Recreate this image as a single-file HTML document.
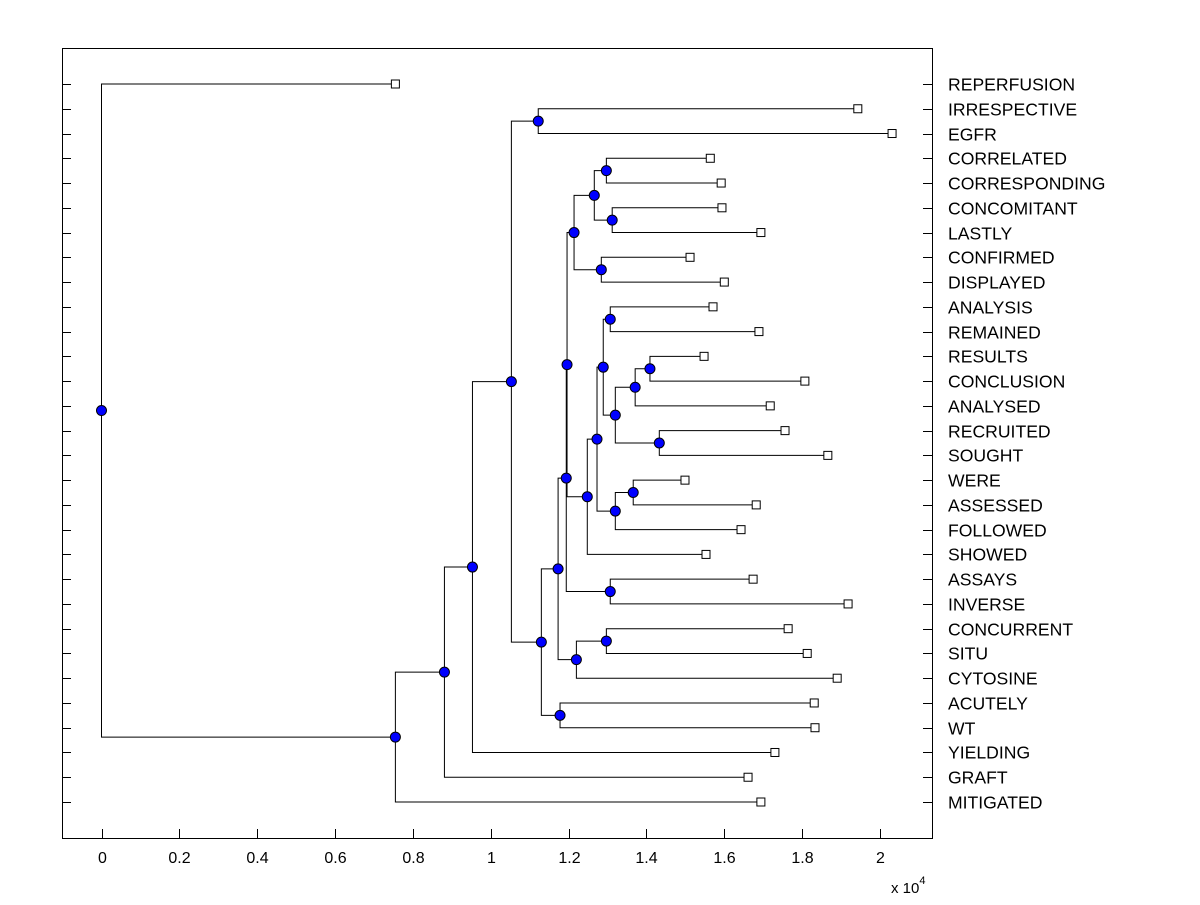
<!DOCTYPE html>
<html><head><meta charset="utf-8"><style>
body{margin:0;background:#fff;width:1200px;height:900px;overflow:hidden}
text{font-family:"Liberation Sans",Arial,sans-serif;font-size:16px;fill:#000}
</style></head><body>
<svg id="chart" width="1200" height="900" xmlns="http://www.w3.org/2000/svg"></svg>
<script>
const labels=["REPERFUSION","IRRESPECTIVE","EGFR","CORRELATED","CORRESPONDING","CONCOMITANT","LASTLY","CONFIRMED","DISPLAYED","ANALYSIS","REMAINED","RESULTS","CONCLUSION","ANALYSED","RECRUITED","SOUGHT","WERE","ASSESSED","FOLLOWED","SHOWED","ASSAYS","INVERSE","CONCURRENT","SITU","CYTOSINE","ACUTELY","WT","YIELDING","GRAFT","MITIGATED"];
const leafValues=[0.755,1.943,2.031,1.564,1.592,1.594,1.694,1.512,1.600,1.571,1.689,1.548,1.807,1.718,1.756,1.866,1.499,1.682,1.643,1.553,1.674,1.918,1.764,1.813,1.890,1.831,1.833,1.730,1.661,1.694];
const mergeLeft=[3,5,"n0",7,"n2",9,11,"n6",14,"n7","n5",16,"n11","n10","n13","n4",20,"n15",22,"n18","n17",25,"n20",1,"n23","n24","n25","n26",0];
const mergeRight=[4,6,"n1",8,"n3",10,12,13,15,"n8","n9",17,18,"n12",19,"n14",21,"n16",23,24,"n19",26,"n21",2,"n22",27,28,29,"n27"];
const mergeHeights=[1.297,1.312,1.266,1.284,1.214,1.307,1.409,1.371,1.433,1.320,1.289,1.366,1.320,1.273,1.248,1.196,1.307,1.194,1.297,1.220,1.173,1.178,1.130,1.122,1.053,0.953,0.881,0.755,0];
const xTicks=[0,0.2,0.4,0.6,0.8,1,1.2,1.4,1.6,1.8,2];
const xTickLabels=["0","0.2","0.4","0.6","0.8","1","1.2","1.4","1.6","1.8","2"];

const NS="http://www.w3.org/2000/svg",svg=document.getElementById('chart');
const L=62,R=932,T=48,B=838;
const xs=v=>101.5+v*389.25;
const ys=i=>84+i*(802-84)/(labels.length-1);
function mk(tag,at,parent){const e=document.createElementNS(NS,tag);for(const k in at)e.setAttribute(k,at[k]);(parent||svg).appendChild(e);return e;}
const box=mk('rect',{x:L+.5,y:T+.5,width:R-L,height:B-T,fill:'none',stroke:'#000'});


xTicks.forEach((t,i)=>{const x=Math.round(xs(t))+.5;
 const tk=mk('line',{x1:x,x2:x,y1:B,y2:B-9,stroke:'#000'});
 
 
 const tl=mk('text',{x:x,y:863,'text-anchor':'middle'});tl.textContent=xTickLabels[i];
 
 });
const ex=mk('text',{x:891,y:893,style:'font-size:15px'});ex.innerHTML='x 10<tspan dy="-9" style="font-size:11px">4</tspan>';


labels.forEach((lab,i)=>{const y=Math.round(ys(i))+.5;
 const a=mk('line',{x1:L,x2:L+9,y1:y,y2:y,stroke:'#000'});
 
 
 const b=mk('line',{x1:R-9,x2:R,y1:y,y2:y,stroke:'#000'});
 
 
 const t=mk('text',{x:948,y:y+6,style:'font-size:17.6px'});t.textContent=lab;
 
 });
const nodes={};const g=mk('g',{});
function pos(c){return typeof c==='number'?{x:xs(leafValues[c]),y:ys(c)}:nodes[c];}
mergeHeights.forEach((h,k)=>{const a=pos(mergeLeft[k]),b=pos(mergeRight[k]);const x=xs(h),y=(a.y+b.y)/2;
 nodes['n'+k]={x,y};
 const p=mk('path',{d:`M${a.x},${a.y}H${x}V${b.y}H${b.x}`,fill:'none',stroke:'#000','stroke-width':1},g);
 
 });
labels.forEach((lab,i)=>{const s=mk('rect',{x:xs(leafValues[i])-4,y:ys(i)-4,width:8,height:8,fill:'#fff',stroke:'#000'});
 
 });
mergeHeights.forEach((h,k)=>{const n=nodes['n'+k];const c=mk('circle',{cx:n.x,cy:n.y,r:5,fill:'#0000ff',stroke:'#000'});
 
 });
</script>
</body></html>
